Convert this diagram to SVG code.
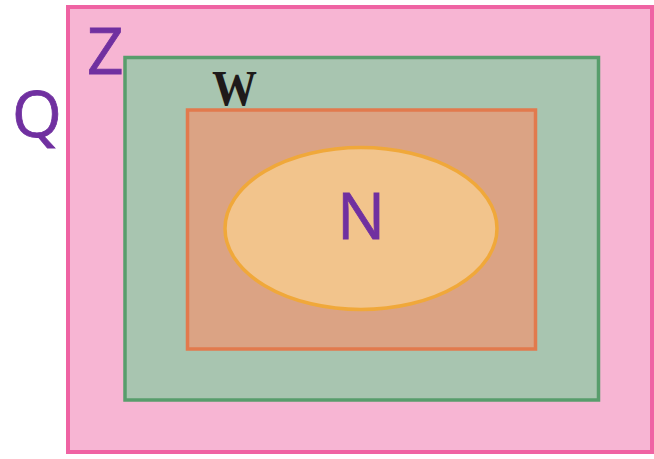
<svg xmlns="http://www.w3.org/2000/svg" width="654" height="459" viewBox="0 0 654 459">
<style>
.lbl{font-family:"Open Sans","Noto Sans",sans-serif;fill:#7030a0;font-size:64px;stroke:#7030a0;stroke-width:0.8px}
.w{font-family:"Liberation Serif",serif;font-weight:bold;fill:#1e1a1a;font-size:50px}
</style>
<rect width="654" height="459" fill="#ffffff"/>
<g id="Q">
<rect x="68" y="7" width="584" height="445" fill="#f7b5d3" stroke="#ef63a3" stroke-width="4"/>
<text class="lbl" x="12" y="137">Q</text>
</g>
<g id="Z">
<rect x="125" y="57.5" width="473.5" height="342.5" fill="#a8c5b0" stroke="#589d6c" stroke-width="3.5"/>
<text class="lbl" x="87" y="74">Z</text>
</g>
<g id="W">
<rect x="187.5" y="110" width="348" height="239" fill="#dba384" stroke="#e27a4d" stroke-width="3.5"/>
<text class="w" x="212" y="105" textLength="45" lengthAdjust="spacingAndGlyphs">W</text>
</g>
<g id="N">
<ellipse cx="361" cy="228.5" rx="136" ry="81" fill="#f2c48c" stroke="#f0a83a" stroke-width="3.5"/>
<text class="lbl" x="361" y="239" text-anchor="middle">N</text>
</g>
<g id="connectors"/>
</svg>
